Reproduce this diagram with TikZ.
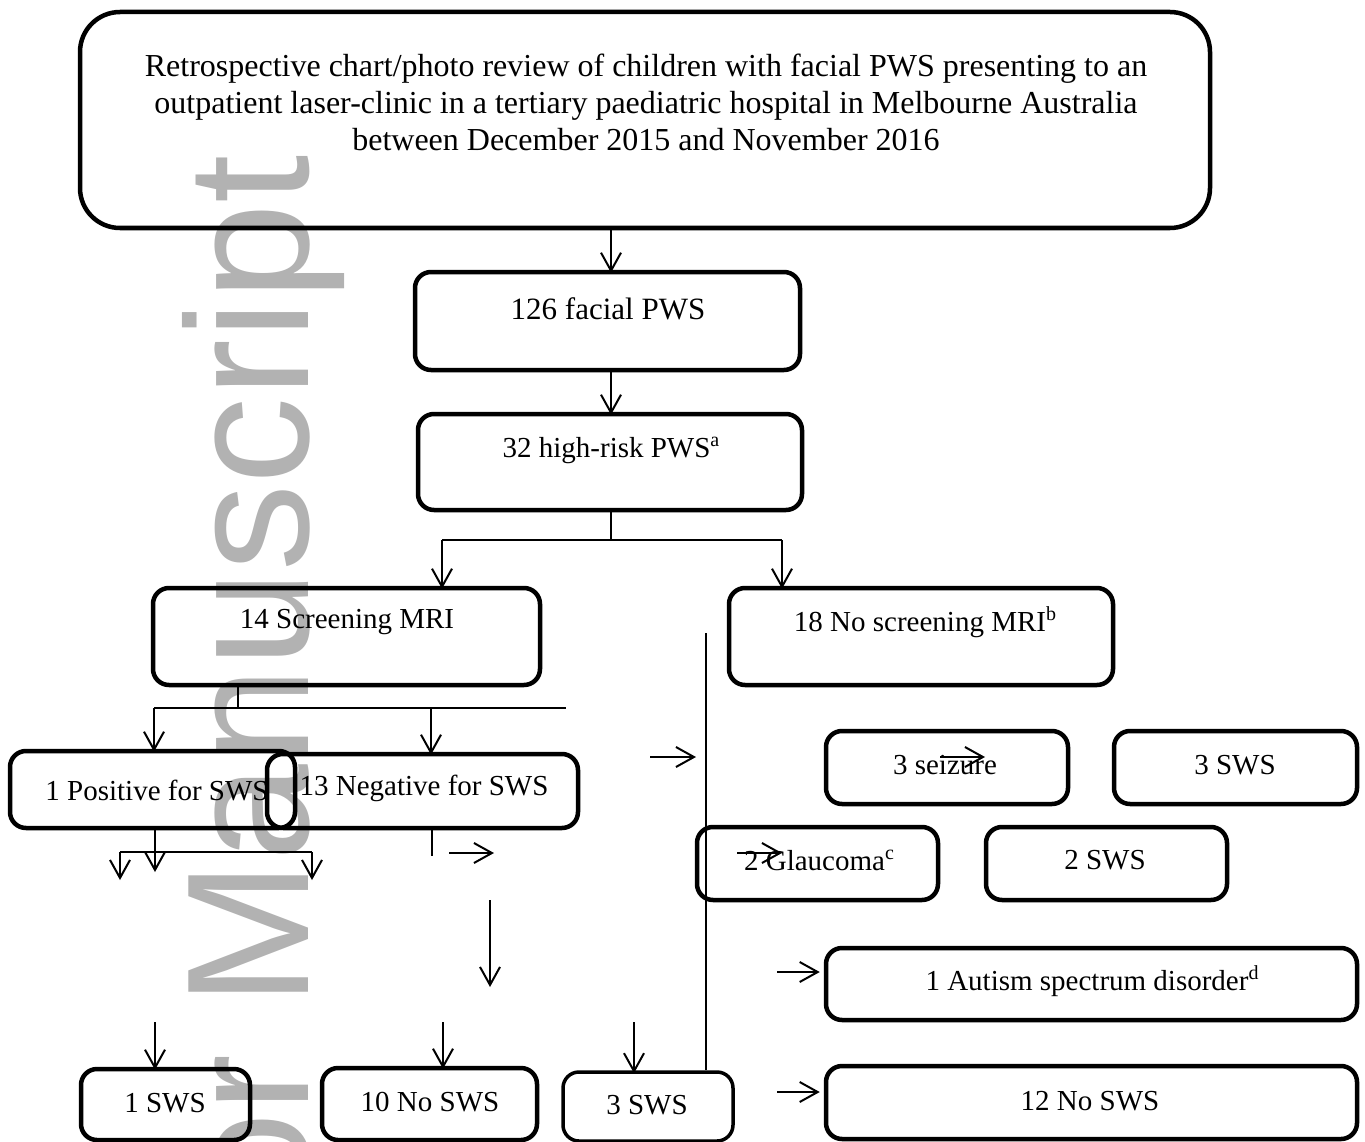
\documentclass[tikz,border=0pt]{standalone}
\usepackage{fontspec}
\setmainfont{Liberation Serif}
\newfontfamily\wmfont{Liberation Sans}
\usetikzlibrary{arrows.meta}
\definecolor{wmgray}{RGB}{178,178,178}
\newcommand{\mysup}[1]{\raisebox{0.38em}{\fontsize{20}{20}\selectfont #1}}
\begin{document}
\begin{tikzpicture}[x=1pt,y=-1pt,
  box/.style={draw, line width=4.5pt, rounded corners=16pt, inner sep=0pt},
  txt/.style={font=\fontsize{29}{34}\selectfont, inner sep=0pt, align=center},
  bigtxt/.style={font=\fontsize{31}{37}\selectfont, inner sep=0pt, align=center},
  arr/.style={line width=2pt, -{Straight Barb[length=18pt,width=20pt,line width=2pt]}},
  ln/.style={line width=2pt}]
\useasboundingbox (0,0) rectangle (1365,1142);
% watermark
\begin{scope}
\clip (0,0) rectangle (1365,1142);
\node[rotate=90, anchor=base east, text=wmgray, font=\wmfont\fontsize{174}{174}\selectfont, inner sep=0pt] (wm) at (308,155) {Author Manuscript};
\end{scope}
% boxes
\node[box, rounded corners=40pt, minimum width=1130pt, minimum height=216pt] (top) at (645,120) {};
\node[box, minimum width=385pt, minimum height=98pt] (b126) at (607.5,321) {};
\node[box, minimum width=384pt, minimum height=96pt] (b32) at (610,462) {};
\node[box, minimum width=387pt, minimum height=97pt] (b14) at (346.5,636.5) {};
\node[box, minimum width=384pt, minimum height=97pt] (b18) at (921,636.5) {};
\node[box, minimum width=285pt, minimum height=77pt] (bpos) at (152.5,789.5) {};
\node[box, minimum width=311pt, minimum height=74pt] (bneg) at (422.5,791) {};
\node[box, minimum width=242pt, minimum height=73pt] (bseiz) at (947,767.5) {};
\node[box, minimum width=243pt, minimum height=73pt] (bswsr) at (1235.5,767.5) {};
\node[box, minimum width=241pt, minimum height=73pt] (bglau) at (817.5,863.5) {};
\node[box, minimum width=241pt, minimum height=73pt] (bsws2) at (1106.5,863.5) {};
\node[box, minimum width=531pt, minimum height=72pt] (baut) at (1091.5,984) {};
\node[box, minimum width=531pt, minimum height=73pt] (bno12) at (1091.5,1102.5) {};
\node[box, minimum width=169pt, minimum height=71pt] (bsws1) at (165.5,1104.5) {};
\node[box, minimum width=215pt, minimum height=72pt] (bno10) at (429.5,1104) {};
\node[box, line width=3.5pt, minimum width=170pt, minimum height=69pt] (bsws3) at (648,1106.5) {};
% texts
\node[font=\fontsize{32}{37}\selectfont, inner sep=0pt, align=center] (ttop) at (646,102) {Retrospective chart/photo review of children with facial PWS presenting to an\\ outpatient laser-clinic in a tertiary paediatric hospital in Melbourne Australia\\ between December 2015 and November 2016};
\node[bigtxt] (t126) at (608,309) {126 facial PWS};
\node[txt] (t32) at (611,450) {32 high-risk PWS\mysup{a}};
\node[txt] (t14) at (347,622) {14 Screening MRI};
\node[txt] (t18) at (925,622) {18 No screening MRI\mysup{b}};
\node[txt] (tpos) at (157,791) {1 Positive for SWS};
\node[txt] (tneg) at (424,788) {13 Negative for SWS};
\node[txt] (tseiz) at (945,765) {3 seizure};
\node[txt] (tswsr) at (1235,765) {3 SWS};
\node[txt] (tglau) at (819,860) {2 Glaucoma\mysup{c}};
\node[txt] (tsws2) at (1105,860) {2 SWS};
\node[txt] (taut) at (1092,981) {1 Autism spectrum disorder\mysup{d}};
\node[txt] (tno12) at (1090,1101) {12 No SWS};
\node[txt] (tsws1) at (165,1103) {1 SWS};
\node[txt] (tno10) at (430,1102) {10 No SWS};
\node[txt] (tsws3) at (647,1105) {3 SWS};
% coordinates for free ends
\coordinate (c1) at (611,0);
\coordinate (j32) at (611,540);
\coordinate (jl) at (442,540);
\coordinate (jr) at (782,540);
\coordinate (c14) at (238,0);
\coordinate (j14) at (238,708);
\coordinate (h14l) at (154,708);
\coordinate (h14m) at (431,708);
\coordinate (h14r) at (566,708);
\coordinate (cp) at (155,0);
\coordinate (jp) at (155,852);
\coordinate (pa) at (155,872);
\coordinate (hpl) at (120,852);
\coordinate (hpr) at (312,852);
\coordinate (pal) at (120,880);
\coordinate (par) at (312,880);
\coordinate (n1) at (432,830);
\coordinate (n2) at (432,856);
\coordinate (r1a) at (449,853);
\coordinate (r1b) at (494,853);
\coordinate (d1a) at (490,900);
\coordinate (d1b) at (490,987);
\coordinate (r2a) at (650,757);
\coordinate (r2b) at (696,757);
\coordinate (v1) at (706,633);
\coordinate (v2) at (706,0);
\coordinate (d2a) at (155,1022);
\coordinate (d3a) at (443,1022);
\coordinate (d4a) at (634,1022);
\coordinate (s1a) at (940,757);
\coordinate (s1b) at (985,757);
\coordinate (g1a) at (737,853);
\coordinate (g1b) at (782,853);
\coordinate (r3a) at (777,972);
\coordinate (r4a) at (777,1092);
% connectors
\draw[arr] (top.south -| c1) -- ([yshift=-3pt]b126.north -| c1);
\draw[arr] (b126.south -| c1) -- ([yshift=-3pt]b32.north -| c1);
\draw[ln] (b32.south -| c1) -- (j32);
\draw[ln] (jl) -- (jr);
\draw[arr] (jl) -- ([yshift=-3pt]b14.north -| jl);
\draw[arr] (jr) -- ([yshift=-3pt]b18.north -| jr);
\draw[ln] (b14.south -| c14) -- (j14);
\draw[ln] (h14l) -- (h14r);
\draw[arr] (h14l) -- ([yshift=-3pt]bpos.north -| h14l);
\draw[arr] (h14m) -- ([yshift=-3pt]bneg.north -| h14m);
\draw[arr] (bpos.south -| cp) -- (pa);
\draw[ln] (hpl) -- (hpr);
\draw[arr] (hpl) -- (pal);
\draw[arr] (hpr) -- (par);
\draw[line width=1.5pt] (n1) -- (n2);
\draw[arr] (r1a) -- (r1b);
\draw[arr] (d1a) -- (d1b);
\draw[arr] (r2a) -- (r2b);
\draw[ln] (v1) -- (bsws3.north -| v2);
\draw[arr] (d2a) -- ([yshift=-3pt]bsws1.north -| d2a);
\draw[arr] (d3a) -- ([yshift=-3pt]bno10.north -| d3a);
\draw[arr] (d4a) -- ([yshift=-3pt]bsws3.north -| d4a);
\draw[arr] (s1a) -- (s1b);
\draw[arr] (g1a) -- (g1b);
\draw[arr] (r3a) -- ([xshift=-4pt]baut.west |- r3a);
\draw[arr] (r4a) -- ([xshift=-4pt]bno12.west |- r4a);
\end{tikzpicture}
\end{document}
